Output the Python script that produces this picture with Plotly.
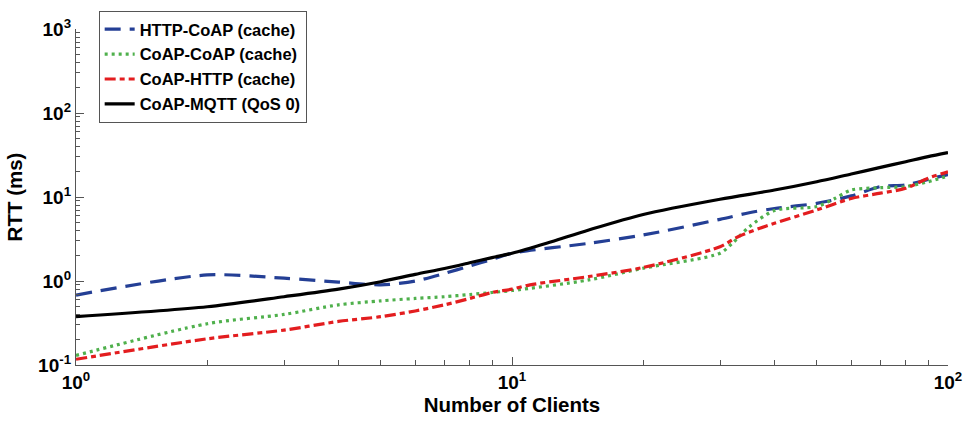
import plotly.graph_objects as go

# Data (RTT in ms vs number of clients)
x_http_coap = [1, 2, 3, 4, 5, 6, 7, 8, 9, 10, 15, 20, 30, 35, 40, 50, 60, 70, 80, 90, 100]
y_http_coap = [0.68, 1.18, 1.08, 0.97, 0.90, 1.0, 1.23, 1.51, 1.81, 2.14, 2.81, 3.53, 5.42, 6.5, 7.3, 8.4, 10.3, 13.3, 13.9, 16.2, 18.5]

x_coap_coap = [1, 2, 3, 4, 5, 6, 7, 8, 9, 10, 15, 20, 30, 32, 35, 40, 50, 55, 60, 70, 80, 90, 100]
y_coap_coap = [0.13, 0.31, 0.40, 0.52, 0.58, 0.62, 0.65, 0.69, 0.73, 0.77, 1.03, 1.42, 2.14, 2.81, 4.4, 6.9, 7.7, 9.6, 12.1, 12.9, 13.3, 15.2, 17.8]

x_coap_http = [1, 2, 3, 4, 5, 6, 7, 8, 9, 10, 11, 15, 20, 30, 33, 37, 40, 50, 60, 70, 80, 90, 100]
y_coap_http = [0.117, 0.205, 0.26, 0.33, 0.376, 0.44, 0.52, 0.62, 0.73, 0.80, 0.90, 1.13, 1.45, 2.56, 3.37, 4.24, 4.86, 7.0, 9.6, 11.1, 12.7, 16.7, 20.0]

x_coap_mqtt = [1, 2, 3, 4, 5, 6, 7, 8, 9, 10, 12, 15, 20, 30, 40, 50, 60, 70, 80, 90, 100]
y_coap_mqtt = [0.376, 0.494, 0.65, 0.80, 0.98, 1.2, 1.41, 1.65, 1.9, 2.14, 2.81, 4.05, 6.2, 9.4, 12.1, 15.2, 18.8, 22.5, 26.3, 30.2, 33.7]

x_ticks = [1, 10, 100]
x_ticktext = ["10<sup>0</sup>", "10<sup>1</sup>", "10<sup>2</sup>"]
y_ticks = [0.1, 1, 10, 100, 1000]
y_ticktext = ["10<sup>-1</sup>", "10<sup>0</sup>", "10<sup>1</sup>", "10<sup>2</sup>", "10<sup>3</sup>"]

x_minor = [m * d for d in (1, 10) for m in range(2, 10)]
y_minor = [m * d for d in (0.1, 1, 10, 100) for m in range(2, 10)]

FONT = "Arial, Liberation Sans, Helvetica, sans-serif"

fig = go.Figure()
series = [
    ("HTTP-CoAP (cache)", x_http_coap, y_http_coap, "#243f95", "16px,9px"),
    ("CoAP-CoAP (cache)", x_coap_coap, y_coap_coap, "#4fb04c", "3px,4px"),
    ("CoAP-HTTP (cache)", x_coap_http, y_coap_http, "#e31d1f", "11px,4px,5px,4px"),
    ("CoAP-MQTT (QoS 0)", x_coap_mqtt, y_coap_mqtt, "#000000", "solid"),
]
for i, (name, xs, ys, color, dash) in enumerate(series):
    fig.add_trace(go.Scatter(
        x=xs, y=ys, mode="lines", name=name, legendgroup=f"g{i}",
        line=dict(color=color, width=3.2, dash=dash, shape="spline", smoothing=0.8),
    ))

axis_common = dict(
    type="log", showgrid=False, zeroline=False, showline=True, automargin=False,
    linecolor="#555555", linewidth=1.3, ticks="inside", ticklen=8,
    tickcolor="#555555", tickwidth=1,
    tickfont=dict(family=FONT, size=19, color="black", weight="bold"),
)

fig.update_xaxes(
    **axis_common, range=[0, 2], tickmode="array", tickvals=x_ticks, ticktext=x_ticktext,
    minor=dict(tickvals=x_minor, ticks="inside", ticklen=5, tickcolor="#555555"),
    title=dict(text="<b>Number of Clients</b>", font=dict(family=FONT, size=20.5, color="black"), standoff=4),
)
fig.update_yaxes(
    **axis_common, range=[-1, 3], tickmode="array", tickvals=y_ticks, ticktext=y_ticktext,
    minor=dict(tickvals=y_minor, ticks="inside", ticklen=4, tickcolor="#555555"),
    title=dict(text="<b>RTT (ms)</b>", font=dict(family=FONT, size=20.5, color="black"), standoff=9),
)

fig.update_layout(
    width=966, height=421,
    margin=dict(l=76, r=18, t=29, b=56, autoexpand=False),
    plot_bgcolor="white", paper_bgcolor="white",
    legend=dict(
        x=0.026, y=1.054, xanchor="left", yanchor="top",
        bgcolor="white", bordercolor="#555555", borderwidth=1,
        font=dict(family=FONT, size=16.5, color="black", weight="bold"),
        traceorder="grouped", tracegroupgap=0.5, itemwidth=30,
    ),
)

fig.write_html("out.html", config={"displayModeBar": False})

# remove the browser's default page margin so the figure sits at the window's corner
with open("out.html", "r", encoding="utf-8") as f:
    html = f.read()
html = html.replace("<body>", '<body style="margin:0;padding:0;">', 1)
with open("out.html", "w", encoding="utf-8") as f:
    f.write(html)
